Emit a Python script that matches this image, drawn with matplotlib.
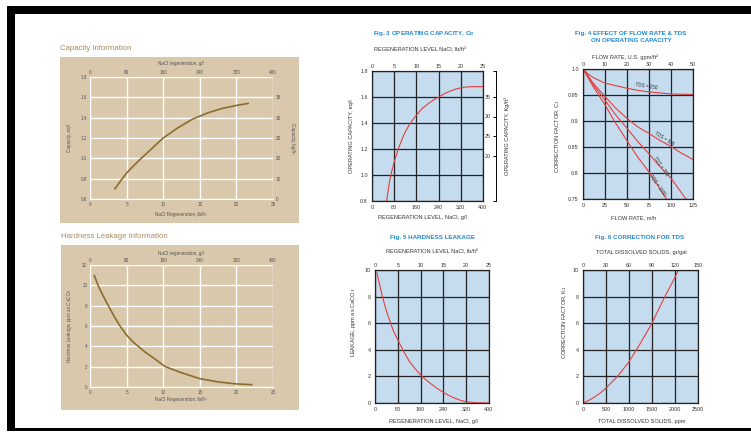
import matplotlib
matplotlib.use('Agg')
import matplotlib.pyplot as plt
import matplotlib.patches as patches

W, H = 751, 432

plt.rcParams['font.family'] = ['Liberation Sans', 'DejaVu Sans']

# Capacity information (beige panel)
cap_lb = [3.4, 4.2, 5, 6, 7, 8.5, 10, 12, 14, 16, 18, 20, 21.6]
cap_eq = [0.70, 0.78, 0.855, 0.93, 1.0, 1.1, 1.2, 1.3, 1.385, 1.445, 1.49, 1.52, 1.54]

# Hardness leakage information (beige panel)
leak_lb = [0.6, 1.1, 1.8, 2.5, 3.3, 4.1, 5, 6, 6.6, 7.5, 8.5, 10.3, 12.5, 15, 17.5, 20, 22.1]
leak_ppm = [10.95, 10.0, 8.95, 8.0, 6.95, 6.0, 5.1, 4.35, 4.0, 3.45, 2.95, 2.0, 1.4, 0.82,
            0.5, 0.3, 0.23]

# Fig. 3 operating capacity
op_gl = [53, 58, 64, 70, 80, 90, 100, 115, 130, 145, 160, 180, 200, 220, 240, 270, 300, 330,
         360, 400]
op_eq = [0.8, 0.88, 0.96, 1.02, 1.1, 1.17, 1.23, 1.31, 1.37, 1.42, 1.46, 1.51, 1.545, 1.575,
         1.6, 1.635, 1.66, 1.675, 1.68, 1.68]
op_kg_ticks = [1.15, 1.3, 1.45, 1.6]
op_kg_labels = ['20', '25', '30', '35']

# Fig. 4 flow rate & TDS
flow_tds = {
    'TDS = 250': ([0, 6, 12, 25, 37, 50, 62, 75, 100, 125],
                  [1.0, 0.99, 0.983, 0.973, 0.968, 0.963, 0.959, 0.956, 0.952, 0.951]),
    'TDS = 500': ([0, 12, 25, 37, 50, 62, 75, 87, 100, 112, 125],
                  [1.0, 0.972, 0.947, 0.925, 0.905, 0.889, 0.876, 0.863, 0.851, 0.838, 0.826]),
    'TDS = 750': ([0, 12, 25, 37, 50, 62, 75, 87, 100, 117],
                  [1.0, 0.969, 0.94, 0.912, 0.886, 0.861, 0.837, 0.813, 0.79, 0.75]),
    'TDS = 1000': ([0, 12, 25, 37, 50, 62, 75, 95],
                   [1.0, 0.965, 0.931, 0.896, 0.862, 0.831, 0.802, 0.75]),
}
flow_label_pos = {
    'TDS = 250': (72, 0.967, -9),
    'TDS = 500': (92, 0.866, -33),
    'TDS = 750': (88, 0.813, -55),
    'TDS = 1000': (84, 0.776, -55),
}

# Fig. 5 hardness leakage
hl_gl = [7, 15, 25, 35, 45, 55, 65, 80, 100, 120, 140, 160, 180, 200, 220, 240, 260, 280, 300,
         320, 340, 360, 400]
hl_ppm = [9.8, 9.0, 8.1, 7.3, 6.6, 6.0, 5.4, 4.75, 3.9, 3.15, 2.6, 2.1, 1.72, 1.38, 1.07, 0.8,
          0.56, 0.36, 0.2, 0.1, 0.04, 0.01, 0.0]

# Fig. 6 correction for TDS
tds_ppm = [0, 125, 250, 375, 500, 750, 1000, 1250, 1500, 1750, 2000, 2075]
tds_k = [0, 0.2, 0.45, 0.75, 1.12, 2.0, 3.1, 4.5, 6.0, 7.8, 9.45, 10.0]

BEIGE = '#d9c8ab'
BROWN = '#8c6d2f'
TAN_TITLE = '#a88b5f'
BLUE_FILL = '#c5dcef'
BLUE_TITLE = '#1f8ad2'
RED = '#e2413f'
TXT = '#333333'
GREY = '#555555'


def rect(l, t, r, b):
    return [l / W, 1 - b / H, (r - l) / W, (b - t) / H]


def ftext(x, y, s, **kw):
    kw.setdefault('ha', 'center')
    kw.setdefault('va', 'center')
    fig.text(x / W, 1 - y / H, s, **kw)


def fill_box(l, t, r, b, color, z):
    fig.add_artist(patches.Rectangle((l / W, 1 - b / H), (r - l) / W, (b - t) / H,
                                     transform=fig.transFigure, color=color, lw=0, zorder=z))


fig = plt.figure(figsize=(W / 100, H / 100), dpi=100)
fig.patch.set_facecolor('white')

# black frame around the sheet
for box in [(7, 6, 751, 14), (7, 6, 15, 430), (7, 428, 751, 431)]:
    fill_box(*box, 'black', 5)


def beige_panel(box, plot, xt, xl, yt, yl, top_labels):
    fill_box(*box, BEIGE, -5)
    ax = fig.add_axes(rect(*plot))
    ax.set_facecolor(BEIGE)
    ax.set_xlim(xl)
    ax.set_ylim(yl)
    ax.set_xticks(xt)
    ax.set_yticks(yt)
    ax.grid(True, color='white', lw=1.0)
    for s in ax.spines.values():
        s.set_visible(False)
    ax.spines['left'].set_visible(True)
    ax.spines['bottom'].set_visible(True)
    ax.spines['left'].set_color('white')
    ax.spines['bottom'].set_color('white')
    ax.tick_params(length=0, labelsize=3.3, labelcolor=GREY, pad=2)
    top = ax.secondary_xaxis('top')
    top.set_xticks(xt)
    top.set_xticklabels(top_labels)
    top.tick_params(length=0, labelsize=3.3, labelcolor=GREY, pad=1.5)
    top.spines['top'].set_visible(False)
    return ax


# Capacity information
ax1 = beige_panel((60, 57, 299, 223), (90, 77, 273, 199), [0, 5, 10, 15, 20, 25], (0, 25),
                  [0.6, 0.8, 1.0, 1.2, 1.4, 1.6, 1.8], (0.6, 1.8),
                  ['0', '80', '160', '240', '320', '400'])
ax1.set_yticklabels(['0.6', '0.8', '1.0', '1.2', '1.4', '1.6', '1.8'])
ax1.plot(cap_lb, cap_eq, color=BROWN, lw=1.2)
ax1r = ax1.twinx()
ax1r.set_ylim(0.6, 1.8)
ax1r.set_yticks([0.6, 0.8, 1.0, 1.2, 1.4, 1.6])
ax1r.set_yticklabels(['0', '15', '20', '25', '30', '35'])
ax1r.tick_params(length=0, labelsize=3.3, labelcolor=GREY, pad=2)
for s in ax1r.spines.values():
    s.set_visible(False)
ftext(60, 48, 'Capacity Information', ha='left', fontsize=5.6, color=TAN_TITLE)
ftext(181, 64, 'NaCl regeneration, g/l', fontsize=3.3, color=GREY)
ftext(181, 215, 'NaCl Regeneration, lb/ft³', fontsize=3.3, color=GREY)
ftext(69, 138, 'Capacity, eq/l', fontsize=3.3, color=GREY, rotation=90)
ftext(292, 138, 'Capacity, kg/ft³', fontsize=3.3, color=GREY, rotation=-90)

# Hardness leakage information
ax2 = beige_panel((61, 245, 299, 410), (90, 265, 273, 387), [0, 5, 10, 15, 20, 25], (0, 25),
                  [0, 2, 4, 6, 8, 10, 12], (0, 12),
                  ['0', '80', '160', '240', '320', '400'])
ax2.plot(leak_lb, leak_ppm, color=BROWN, lw=1.2)
ftext(61, 236, 'Hardness Leakage Information', ha='left', fontsize=5.6, color=TAN_TITLE)
ftext(181, 253, 'NaCl regeneration, g/l', fontsize=3.3, color=GREY)
ftext(181, 399, 'NaCl Regeneration, lb/ft³', fontsize=3.3, color=GREY)
ftext(70, 326, 'Hardness Leakage, ppm as CaCO$_3$', fontsize=3.3, color=GREY, rotation=90)


def blue_panel(plot, xl, xt, xlabels, yl, yt, ylabels, top_labels):
    ax = fig.add_axes(rect(*plot))
    ax.set_facecolor(BLUE_FILL)
    ax.set_xlim(xl)
    ax.set_ylim(yl)
    ax.set_xticks(xt)
    ax.set_xticklabels(xlabels)
    ax.set_yticks(yt)
    ax.set_yticklabels(ylabels)
    ax.grid(True, color='#222222', lw=0.9)
    for s in ax.spines.values():
        s.set_color('#222222')
        s.set_linewidth(0.9)
    ax.tick_params(length=0, labelsize=3.9, labelcolor=TXT, pad=3)
    top = ax.secondary_xaxis('top')
    top.set_xticks(xt)
    top.set_xticklabels(top_labels)
    top.tick_params(length=0, labelsize=3.9, labelcolor=TXT, pad=1.5)
    top.spines['top'].set_visible(False)
    return ax


# Fig. 3
ax3 = blue_panel((372, 71, 483, 201), (0, 400), [0, 80, 160, 240, 320, 400],
                 ['0', '80', '160', '240', '320', '400'],
                 (0.8, 1.8), [0.8, 1.0, 1.2, 1.4, 1.6, 1.8],
                 ['0.8', '1.0', '1.2', '1.4', '1.6', '1.8'],
                 ['0', '5', '10', '15', '20', '25'])
ax3.plot(op_gl, op_eq, color=RED, lw=0.8)
ax3k = fig.add_axes(rect(496, 71, 497, 201))
ax3k.set_ylim(0.8, 1.8)
ax3k.patch.set_visible(False)
for s in ['top', 'right', 'bottom']:
    ax3k.spines[s].set_visible(False)
ax3k.spines['left'].set_linewidth(0.7)
ax3k.set_xticks([])
ax3k.set_yticks([0.8] + op_kg_ticks + [1.8])
ax3k.set_yticklabels([''] + op_kg_labels + [''])
ax3k.tick_params(axis='y', direction='out', length=2, width=0.7, labelsize=3.9,
                 labelcolor=TXT, pad=1.5)
ftext(424, 33, 'Fig. 3 OPERATING CAPACITY, C$_\\mathregular{B}$', fontsize=4.5,
      fontweight='bold', color=BLUE_TITLE)
ftext(420, 50, 'REGENERATION LEVEL NaCl, lb/ft³', fontsize=4.1, color=TXT)
ftext(422, 218, 'REGENERATION LEVEL, NaCl, g/l', fontsize=4.1, color=TXT)
ftext(352, 136, 'OPERATING CAPACITY, eq/l', fontsize=4.1, color=TXT, rotation=90)
ftext(507, 136, 'OPERATING CAPACITY, Kg/ft³', fontsize=4.1, color=TXT, rotation=90)

# Fig. 4
ax4 = blue_panel((583, 69, 693, 199), (0, 125), [0, 25, 50, 75, 100, 125],
                 ['0', '25', '50', '75', '100', '125'],
                 (0.75, 1.0), [0.75, 0.8, 0.85, 0.9, 0.95, 1.0],
                 ['0.75', '0.8', '0.85', '0.9', '0.95', '1.0'],
                 ['0', '10', '20', '30', '40', '50'])
for name, (fx, fy) in flow_tds.items():
    ax4.plot(fx, fy, color=RED, lw=0.8)
    lx, ly, rot = flow_label_pos[name]
    ax4.text(lx, ly, name, fontsize=3.3, color=TXT, rotation=rot, ha='center', va='center',
             rotation_mode='anchor')
ftext(631, 33, 'Fig. 4 EFFECT OF FLOW RATE & TDS', fontsize=4.5, fontweight='bold',
      color=BLUE_TITLE)
ftext(631, 41, 'ON OPERATING CAPACITY', fontsize=4.5, fontweight='bold', color=BLUE_TITLE)
ftext(625, 57, 'FLOW RATE, U.S. gpm/ft²', fontsize=4.1, color=TXT)
ftext(634, 218, 'FLOW RATE, m/h', fontsize=4.1, color=TXT)
ftext(558, 136, 'CORRECTION FACTOR, C$_1$', fontsize=4.1, color=TXT, rotation=90)

# Fig. 5
ax5 = blue_panel((375, 270, 489, 403), (0, 400), [0, 80, 160, 240, 320, 400],
                 ['0', '80', '160', '240', '320', '400'],
                 (0, 10), [0, 2, 4, 6, 8, 10], ['0', '2', '4', '6', '8', '10'],
                 ['0', '5', '10', '15', '20', '25'])
ax5.plot(hl_gl, hl_ppm, color=RED, lw=0.8)
ftext(432, 237, 'Fig. 5 HARDNESS LEAKAGE', fontsize=4.5, fontweight='bold', color=BLUE_TITLE)
ftext(432, 252, 'REGENERATION LEVEL NaCl, lb/ft³', fontsize=4.1, color=TXT)
ftext(433, 422, 'REGENERATION LEVEL, NaCl, g/l', fontsize=4.1, color=TXT)
ftext(353, 322, 'LEAKAGE, ppm as CaCO$_3$', fontsize=4.1, color=TXT, rotation=90)

# Fig. 6
ax6 = blue_panel((583, 270, 698, 403), (0, 2500), [0, 500, 1000, 1500, 2000, 2500],
                 ['0', '500', '1000', '1500', '2000', '2500'],
                 (0, 10), [0, 2, 4, 6, 8, 10], ['0', '2', '4', '6', '8', '10'],
                 ['0', '30', '60', '90', '120', '150'])
ax6.plot(tds_ppm, tds_k, color=RED, lw=0.8)
ftext(640, 237, 'Fig. 6 CORRECTION FOR TDS', fontsize=4.5, fontweight='bold', color=BLUE_TITLE)
ftext(641, 252, 'TOTAL DISSOLVED SOLIDS, gr/gal', fontsize=4.1, color=TXT)
ftext(642, 422, 'TOTAL DISSOLVED SOLIDS, ppm', fontsize=4.1, color=TXT)
ftext(565, 322, 'CORRECTION FACTOR, K$_1$', fontsize=4.1, color=TXT, rotation=90)

fig.savefig('out.png', dpi=100)
